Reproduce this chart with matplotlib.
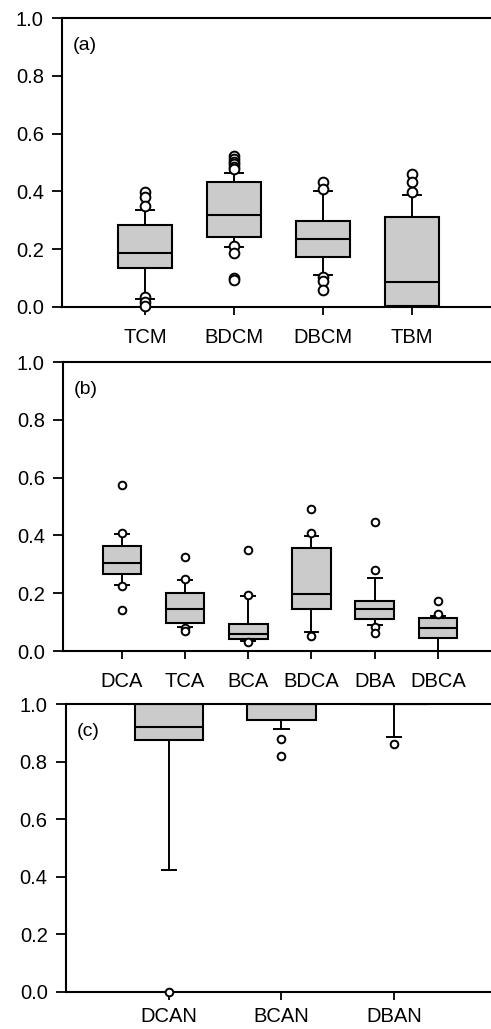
import numpy as np
import matplotlib
matplotlib.use('Agg')
import matplotlib.pyplot as plt

plt.rcParams['font.family'] = ['Liberation Sans', 'DejaVu Sans']

# panel (a) - THMs
labels_a = ['TCM', 'BDCM', 'DBCM', 'TBM']
q1_a = [0.135, 0.243, 0.172, 0.004]
med_a = [0.187, 0.317, 0.235, 0.086]
q3_a = [0.283, 0.431, 0.297, 0.313]
wlo_a = [0.029, 0.209, 0.109, 0.004]
whi_a = [0.336, 0.465, 0.400, 0.386]
fl_a = [
    [0.397, 0.382, 0.350, 0.033, 0.017, 0.002],
    [0.521, 0.512, 0.503, 0.494, 0.485, 0.476, 0.212, 0.187, 0.100, 0.092],
    [0.434, 0.408, 0.104, 0.089, 0.060],
    [0.461, 0.431, 0.397],
]

# panel (b) - HAAs
labels_b = ['DCA', 'TCA', 'BCA', 'BDCA', 'DBA', 'DBCA']
q1_b = [0.267, 0.097, 0.040, 0.144, 0.111, 0.046]
med_b = [0.306, 0.144, 0.060, 0.196, 0.144, 0.081]
q3_b = [0.363, 0.200, 0.092, 0.355, 0.172, 0.116]
wlo_b = [0.229, 0.084, 0.036, 0.067, 0.089, 0.0]
whi_b = [0.404, 0.247, 0.191, 0.397, 0.251, 0.122]
fl_b = [
    [0.574, 0.409, 0.225, 0.142],
    [0.326, 0.248, 0.081, 0.069],
    [0.350, 0.194, 0.030],
    [0.492, 0.407, 0.053],
    [0.448, 0.280, 0.082, 0.061],
    [0.173, 0.128],
]

# panel (c) - HANs
labels_c = ['DCAN', 'BCAN', 'DBAN']
q1_c = [0.876, 0.943, 1.0]
med_c = [0.921, 1.0, 1.0]
q3_c = [1.0, 1.0, 1.0]
wlo_c = [0.425, 0.913, 0.885]
whi_c = [1.0, 1.0, 1.0]
fl_c = [[0.0], [0.878, 0.821], [0.860]]


def stats(labels, q1, med, q3, wlo, whi, fl):
    out = []
    for i in range(len(labels)):
        out.append(dict(label=labels[i], q1=q1[i], med=med[i], q3=q3[i],
                        whislo=wlo[i], whishi=whi[i], fliers=fl[i]))
    return out


fig = plt.figure(figsize=(4.91, 10.29), dpi=100)

# data, tag, rect, xmin, xmax, flier size, cap width, x label pad
panels = [
    (stats(labels_a, q1_a, med_a, q3_a, wlo_a, whi_a, fl_a), '(a)',
     [0.126, 0.7017, 0.874, 0.2808], 0.067, 4.89, 7, 0.2, 9),
    (stats(labels_b, q1_b, med_b, q3_b, wlo_b, whi_b, fl_b), '(b)',
     [0.128, 0.3673, 0.872, 0.2809], 0.067, 6.84, 5.5, 0.22, 9),
    (stats(labels_c, q1_c, med_c, q3_c, wlo_c, whi_c, fl_c), '(c)',
     [0.134, 0.0360, 0.866, 0.2798], 0.085, 3.86, 5.5, 0.13, 5),
]

for st, tag, rect, xmin, xmax, msize, capw, xpad in panels:
    ax = fig.add_axes(rect)
    n = len(st)
    bp = ax.bxp(st, positions=range(1, n + 1), widths=0.61, patch_artist=True,
                showfliers=True,
                boxprops=dict(facecolor='#cbcbcb', edgecolor='black', linewidth=1.5),
                medianprops=dict(color='black', linewidth=1.5),
                whiskerprops=dict(color='black', linewidth=1.4),
                capprops=dict(color='black', linewidth=1.4),
                capwidths=capw,
                flierprops=dict(marker='o', markerfacecolor='white',
                                markeredgecolor='black', markersize=msize,
                                markeredgewidth=1.4))
    for f in bp['fliers']:
        f.set_clip_on(False)
        f.set_zorder(5)
    ax.set_xlim(xmin, xmax)
    ax.set_ylim(0, 1.0)
    ax.set_yticks(np.arange(0, 1.01, 0.2))
    ax.set_yticklabels(['%.1f' % v for v in np.arange(0, 1.01, 0.2)])
    ax.spines['right'].set_visible(False)
    for s in ['left', 'top', 'bottom']:
        ax.spines[s].set_linewidth(1.5)
    ax.tick_params(axis='y', direction='out', length=7, width=1.3,
                   labelsize=14.5, pad=6)
    ax.tick_params(axis='x', direction='out', length=6, width=1.3,
                   labelsize=14.5, pad=xpad)
    ax.text(0.025, 0.935, tag, transform=ax.transAxes, fontsize=14,
            va='top', ha='left')
    for sp in ax.spines.values():
        sp.set_clip_on(False)

plt.savefig('out.png', dpi=100)
